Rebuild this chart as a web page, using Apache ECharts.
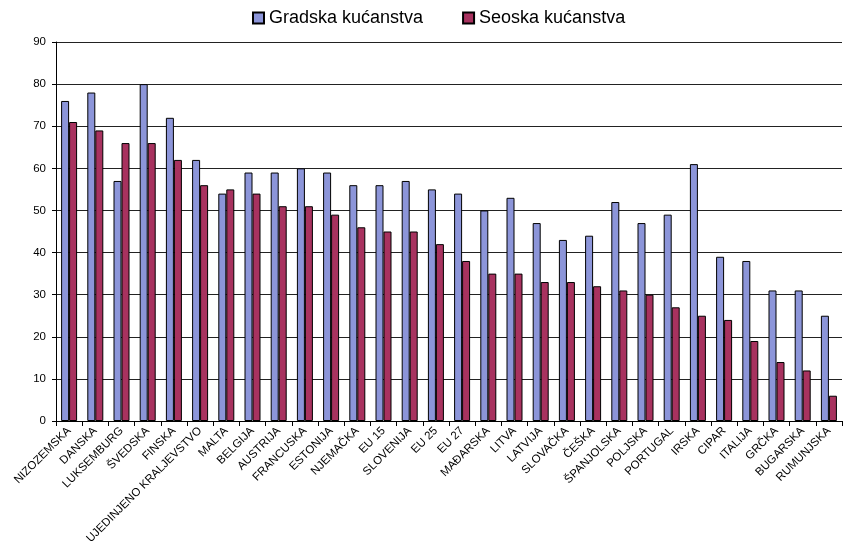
<!DOCTYPE html>
<html>
<head>
<meta charset="utf-8">
<style>
    html, body { margin: 0; padding: 0; background: #fff; }
    #echarts { width: 843px; height: 549px; }
</style>
</head>
<body>
<div id="echarts"></div>
<script src="https://cdn.jsdelivr.net/npm/echarts@6/dist/echarts.min.js"></script>
<script>
    // podaci
    let categories = ['NIZOZEMSKA', 'DANSKA', 'LUKSEMBURG', 'ŠVEDSKA', 'FINSKA', 'UJEDINJENO KRALJEVSTVO',
        'MALTA', 'BELGIJA', 'AUSTRIJA', 'FRANCUSKA', 'ESTONIJA', 'NJEMAČKA', 'EU 15', 'SLOVENIJA', 'EU 25',
        'EU 27', 'MAĐARSKA', 'LITVA', 'LATVIJA', 'SLOVAČKA', 'ČEŠKA', 'ŠPANJOLSKA', 'POLJSKA', 'PORTUGAL',
        'IRSKA', 'CIPAR', 'ITALIJA', 'GRČKA', 'BUGARSKA', 'RUMUNJSKA'];
    let gradska = [76, 78, 57, 80, 72, 62, 54, 59, 59, 60, 59, 56, 56, 57, 55, 54, 50, 53, 47, 43, 44, 52, 47, 49, 61, 39, 38, 31, 31, 25];
    let seoska = [71, 69, 66, 66, 62, 56, 55, 54, 51, 51, 49, 46, 45, 45, 42, 38, 35, 35, 33, 33, 32, 31, 30, 27, 25, 24, 19, 14, 12, 6];
    let seriesNames = ['Gradska kućanstva', 'Seoska kućanstva'];

    let font = 'Liberation Sans, Arial, sans-serif';
    let myChart = echarts.init(document.getElementById('echarts'));

    myChart.setOption({
        animation: false,
        textStyle: {fontFamily: font},
        legend: {
            top: 4,
            left: 247,
            itemWidth: 11,
            itemHeight: 11,
            itemGap: 39,
            icon: 'rect',
            textStyle: {fontSize: 18, color: '#000', fontFamily: font},
            data: seriesNames
        },
        grid: {left: 56, right: 1, top: 42, bottom: 128, containLabel: false},
        xAxis: {
            type: 'category',
            data: categories,
            axisLine: {lineStyle: {color: '#000', width: 1}},
            axisTick: {show: true, length: 5, lineStyle: {color: '#000'}},
            axisLabel: {
                interval: 0,
                rotate: 45,
                fontSize: 11.5,
                color: '#000',
                margin: 8,
                fontFamily: font
            }
        },
        yAxis: {
            type: 'value',
            min: 0,
            max: 90,
            interval: 10,
            axisLine: {show: true, lineStyle: {color: '#000', width: 1}},
            axisTick: {show: true, length: 4, lineStyle: {color: '#000'}},
            axisLabel: {fontSize: 11.5, color: '#000', margin: 10, fontFamily: font},
            splitLine: {lineStyle: {color: '#222', width: 1}}
        },
        series: [
            {
                name: seriesNames[0],
                type: 'bar',
                data: gradska,
                barWidth: 8,
                barGap: '0%',
                itemStyle: {color: '#8c95d9', borderColor: '#000', borderWidth: 1}
            },
            {
                name: seriesNames[1],
                type: 'bar',
                data: seoska,
                barWidth: 8,
                barGap: '0%',
                itemStyle: {color: '#a8325f', borderColor: '#000', borderWidth: 1}
            }
        ]
    });
</script>
</body>
</html>
